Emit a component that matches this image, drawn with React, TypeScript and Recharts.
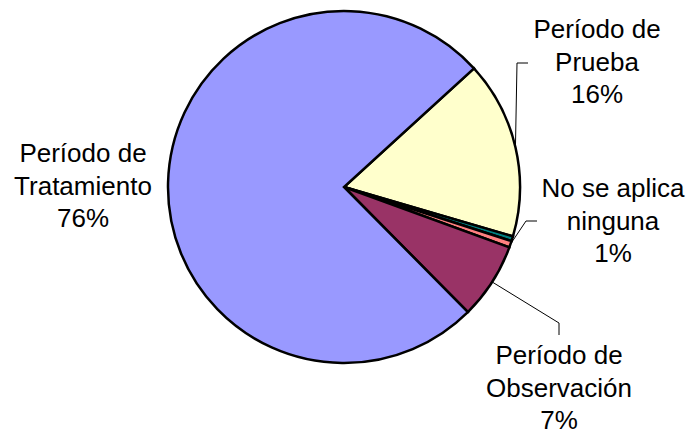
import { PieChart, Pie, Cell } from "recharts";

// slices in clockwise order, starting at the upper-right edge of the yellow slice
const names = [
  "Período de Prueba",
  "Otros",
  "No se aplica ninguna",
  "Período de Observación",
  "Período de Tratamiento",
];
const shares = [16.3, 0.45, 0.6, 7.0, 75.65];
const colors = ["#FFFFCC", "#008080", "#FF8080", "#993366", "#9999FF"];
const labelText = [
  ["Período de", "Prueba"],
  [],
  ["No se aplica", "ninguna"],
  ["Período de", "Observación"],
  ["Período de", "Tratamiento"],
];

const data = names.map((name, i) => ({ name, value: shares[i] }));

// where each label sits and how its leader line bends (no line for the big slice)
const spots: Record<number, { x: number; y: number; line?: number[][] }> = {
  0: { x: 597, y: 38, line: [[517, 63], [528, 63]] },
  2: { x: 613, y: 197, line: [[526, 221], [537, 221]] },
  3: { x: 559, y: 364, line: [[559, 323], [559, 335]] },
  4: { x: 83, y: 162 },
};

const RAD = Math.PI / 180;
const FONT = "'Liberation Sans', Arial, sans-serif";

const SliceLabel = (props: any) => {
  const { cx, cy, midAngle, outerRadius, percent, index } = props;
  const spot = spots[index];
  if (!spot) return null;
  const ex = cx + outerRadius * Math.cos(-midAngle * RAD);
  const ey = cy + outerRadius * Math.sin(-midAngle * RAD);
  const lines = [...labelText[index], `${Math.round(percent * 100)}%`];
  return (
    <g>
      {spot.line && (
        <polyline
          points={[[ex, ey], ...spot.line].map((p) => p.join(",")).join(" ")}
          fill="none"
          stroke="#000"
          strokeWidth={1}
        />
      )}
      <text
        x={spot.x}
        y={spot.y}
        textAnchor="middle"
        fill="#000"
        fontFamily={FONT}
        fontSize={26}
      >
        {lines.map((l, i) => (
          <tspan key={i} x={spot.x} dy={i === 0 ? 0 : 32.5}>
            {l}
          </tspan>
        ))}
      </text>
    </g>
  );
};

export default function App() {
  return (
    <div style={{ position: "absolute", left: 0, top: 0, background: "#fff" }}>
      <PieChart width={696} height={434} margin={{ top: 0, right: 0, bottom: 0, left: 0 }}>
        <Pie
          data={data}
          dataKey="value"
          nameKey="name"
          cx={344}
          cy={187}
          outerRadius={176}
          startAngle={42.4}
          endAngle={-317.6}
          stroke="#000"
          strokeWidth={2.5}
          label={SliceLabel}
          labelLine={false}
          isAnimationActive={false}
        >
          {data.map((d, i) => (
            <Cell key={d.name} fill={colors[i]} />
          ))}
        </Pie>
      </PieChart>
    </div>
  );
}
